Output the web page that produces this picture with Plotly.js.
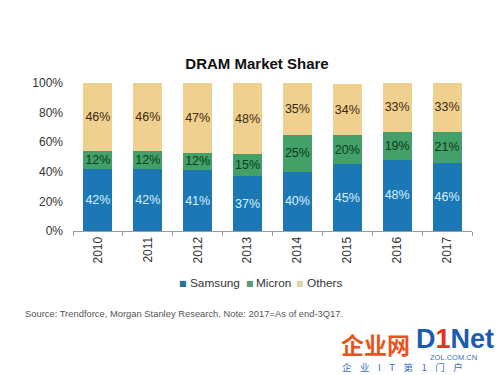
<!DOCTYPE html>
<html><head><meta charset="utf-8">
<script src="https://cdn.plot.ly/plotly-3.0.1.min.js"></script>
<style>body{margin:0;background:#fff}#c{width:500px;height:375px}</style>
</head><body><div id="c"></div>
<script>
const years = ['2010','2011','2012','2013','2014','2015','2016','2017'];
const samsung = [42,42,41,37,40,45,48,46];
const micron = [12,12,12,15,25,20,19,21];
const others = [46,46,47,48,35,34,33,33];
const seriesNames = ['Samsung','Micron','Others'];
const sourceNote = 'Source: Trendforce, Morgan Stanley Research. Note: 2017=As of end-3Q17.';

const F = 'Liberation Sans, Arial, sans-serif';
const colors = ['#1b78b5','#43a068','#f0d08e'];
const swatch = ['#2a6f98','#5f9a78','#dcd5a8'];
const textColors = ['#d8f0ff','#0d3b1c','#3b2a0e'];
const data = [samsung, micron, others].map((v,i)=>({
  type:'bar', x:years, y:v, name:seriesNames[i],
  marker:{color:colors[i]},
  text:v.map(d=>d+'%'), textposition:'inside', insidetextanchor:'middle', textangle:0, constraintext:'none',
  textfont:{family:F, size:12.5, color:textColors[i]},
  hoverinfo:'none', width:0.58
}));

const px = v => (v-72.5)/400;
const py = v => (231-v)/148;
const swX = [183, 249.5, 300.5];
const txtX = [188, 254, 305];
const legendAnns = [];
seriesNames.forEach((n,i)=>{
  legendAnns.push({text:'■', xref:'paper', yref:'paper', x:px(swX[i]), xanchor:'center', y:py(283.5), yanchor:'middle',
    showarrow:false, font:{family:'DejaVu Sans', size:8, color:swatch[i]}});
  legendAnns.push({text:n, xref:'paper', yref:'paper', x:px(txtX[i]), xanchor:'left', y:py(283), yanchor:'middle',
    showarrow:false, font:{family:F, size:11.8, color:'#333'}});
});

const layout = {
  width:500, height:375, barmode:'stack',
  margin:{l:72.5, r:27.5, t:83, b:144},
  paper_bgcolor:'#fff', plot_bgcolor:'#fff',
  showlegend:false,
  title:{text:'<b>DRAM Market Share</b>', x:257/500, xanchor:'center', y:1-64/375, yanchor:'middle',
    font:{family:F, size:15, color:'#111'}},
  xaxis:{type:'category', range:[-0.5,7.5], tickangle:-90, showline:true, linecolor:'#9a9a9a', linewidth:1,
    ticks:'outside', tickson:'boundaries', ticklen:4, tickcolor:'#9a9a9a', showgrid:false,
    tickfont:{family:F, size:12, color:'#333'}},
  yaxis:{range:[0,100], dtick:20, ticksuffix:'%', showgrid:false, zeroline:false, showline:false,
    ticks:'', ticklabelstandoff:9, tickfont:{family:F, size:12, color:'#333'}},
  annotations: legendAnns.concat([
    {text:sourceNote, xref:'paper', yref:'paper', x:px(22), xanchor:'left', y:py(313), yanchor:'middle',
     showarrow:false, font:{family:F, size:9.4, color:'#555'}},
    {text:'<b>企业网</b>', xref:'paper', yref:'paper', x:px(339), xanchor:'left', y:py(344), yanchor:'middle',
     showarrow:false, font:{family:'Noto Sans CJK SC', size:23, color:'#e8541c'}},
    {text:'<b>D<span style="color:#e8301c">1</span>Net</b>', xref:'paper', yref:'paper', x:px(414), xanchor:'left', y:py(339), yanchor:'middle',
     showarrow:false, font:{family:F, size:27, color:'#1a5db0'}},
    {text:'ZOL.COM.CN', xref:'paper', yref:'paper', x:px(428), xanchor:'left', y:py(357.5), yanchor:'middle',
     showarrow:false, font:{family:F, size:7.5, color:'#3a6fc0'}},
    {text:'企&nbsp;&nbsp;&nbsp;&nbsp;业&nbsp;&nbsp;&nbsp;&nbsp;I&nbsp;&nbsp;&nbsp;&nbsp;T&nbsp;&nbsp;&nbsp;&nbsp;第&nbsp;&nbsp;&nbsp;&nbsp;1&nbsp;&nbsp;&nbsp;&nbsp;门&nbsp;&nbsp;&nbsp;&nbsp;户', xref:'paper', yref:'paper', x:px(340), xanchor:'left', y:py(367), yanchor:'middle',
     showarrow:false, font:{family:'Noto Sans CJK SC', size:9.5, color:'#3a6fc0'}}
  ])
};
Plotly.newPlot('c', data, layout, {staticPlot:true, displayModeBar:false});
</script></body></html>
